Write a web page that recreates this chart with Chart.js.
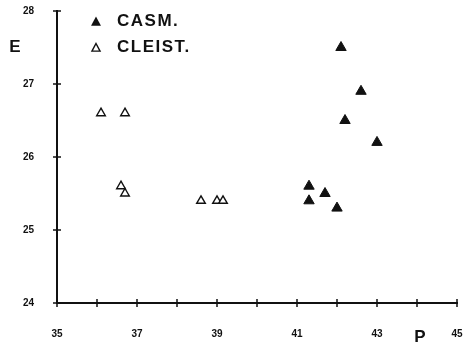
<!DOCTYPE html>
<html>
<head>
<meta charset="utf-8">
<script src="https://cdn.jsdelivr.net/npm/chart.js@4.4.1/dist/chart.umd.min.js"></script>
<style>
  html, body { margin: 0; padding: 0; background: #fff; }
  #wrap { position: relative; width: 466px; height: 343px; }
</style>
</head>
<body>
<div id="wrap"><canvas id="c" width="466" height="343"></canvas></div>
<script>
// data (P on x, E on y)
const casmP = [42.1, 42.6, 42.2, 43.0, 41.3, 41.7, 41.3, 42.0];
const casmE = [27.5, 26.9, 26.5, 26.2, 25.6, 25.5, 25.4, 25.3];
const cleistP = [36.1, 36.7, 36.6, 36.7, 38.6, 39.0, 39.15];
const cleistE = [26.6, 26.6, 25.6, 25.5, 25.4, 25.4, 25.4];
const xTicks = [35, 36, 37, 38, 39, 40, 41, 42, 43, 44, 45];
const yTicks = [24, 25, 26, 27, 28];
const legendLabels = ["CASM.", "CLEIST."];

const INK = "#111";
const tickFont = { family: "'Liberation Sans', Arial, sans-serif", size: 10, weight: "bold" };

function toPoints(xs, ys) {
  return xs.map((x, i) => ({ x, y: ys[i] }));
}

// cross-shaped ticks, legend and axis letters
const decor = {
  id: "decor",
  afterDraw(chart) {
    const { ctx, scales } = chart;
    const xs = scales.x, ys = scales.y;
    const x0 = xs.left, y0 = ys.bottom;
    ctx.save();
    ctx.strokeStyle = INK;
    ctx.lineWidth = 1.5;
    xTicks.forEach(v => {
      const px = xs.getPixelForValue(v);
      ctx.beginPath();
      ctx.moveTo(px, y0 - 4);
      ctx.lineTo(px, y0 + 4);
      ctx.stroke();
    });
    yTicks.forEach(v => {
      const py = ys.getPixelForValue(v);
      ctx.beginPath();
      ctx.moveTo(x0 - 4, py);
      ctx.lineTo(x0 + 4, py);
      ctx.stroke();
    });

    // legend
    const tri = (cx, cy, r, filled) => {
      ctx.beginPath();
      ctx.moveTo(cx, cy - r);
      ctx.lineTo(cx + r * 0.9, cy + r * 0.7);
      ctx.lineTo(cx - r * 0.9, cy + r * 0.7);
      ctx.closePath();
      if (filled) { ctx.fillStyle = INK; ctx.fill(); }
      else { ctx.lineWidth = 1.4; ctx.stroke(); }
    };
    tri(96, 22, 5.5, true);
    tri(96, 48, 4.5, false);
    ctx.fillStyle = INK;
    ctx.font = "bold 17px 'Liberation Sans', Arial, sans-serif";
    ctx.letterSpacing = "1.5px";
    ctx.textBaseline = "middle";
    ctx.textAlign = "left";
    ctx.fillText(legendLabels[0], 117, 21);
    ctx.fillText(legendLabels[1], 117, 47);

    // axis letters
    ctx.letterSpacing = "0px";
    ctx.font = "bold 17px 'Liberation Sans', Arial, sans-serif";
    ctx.textAlign = "center";
    ctx.fillText("E", 15, 47);
    ctx.fillText("P", 420, 337);
    ctx.restore();
  }
};

new Chart(document.getElementById("c"), {
  type: "scatter",
  data: {
    datasets: [
      {
        label: legendLabels[0],
        data: toPoints(casmP, casmE),
        pointStyle: "triangle",
        pointRadius: 6,
        backgroundColor: INK,
        borderColor: INK,
        borderWidth: 1
      },
      {
        label: legendLabels[1],
        data: toPoints(cleistP, cleistE),
        pointStyle: "triangle",
        pointRadius: 5,
        backgroundColor: "#fff",
        borderColor: INK,
        borderWidth: 1.4
      }
    ]
  },
  options: {
    responsive: false,
    animation: false,
    layout: { padding: { top: 11, right: 9, left: 0, bottom: 0 } },
    plugins: {
      legend: { display: false },
      tooltip: { enabled: false }
    },
    scales: {
      x: {
        type: "linear",
        min: 35,
        max: 45,
        afterFit(s) { s.height = 40; s.paddingLeft = 0; s.paddingRight = 0; },
        afterBuildTicks(s) { s.ticks = xTicks.map(v => ({ value: v })); },
        grid: { display: false, drawTicks: false },
        border: { display: true, color: INK, width: 2 },
        ticks: {
          padding: 25,
          color: INK,
          font: tickFont,
          maxRotation: 0,
          autoSkip: false,
          callback: v => (v % 2 === 1 ? String(v) : "")
        }
      },
      y: {
        type: "linear",
        min: 24,
        max: 28,
        afterFit(s) { s.width = 57; s.paddingTop = 0; s.paddingBottom = 0; },
        afterBuildTicks(s) { s.ticks = yTicks.map(v => ({ value: v })); },
        grid: { display: false, drawTicks: false },
        border: { display: true, color: INK, width: 2 },
        ticks: {
          padding: 23,
          color: INK,
          font: tickFont,
          callback: v => String(v)
        }
      }
    }
  },
  plugins: [decor]
});
</script>
</body>
</html>
